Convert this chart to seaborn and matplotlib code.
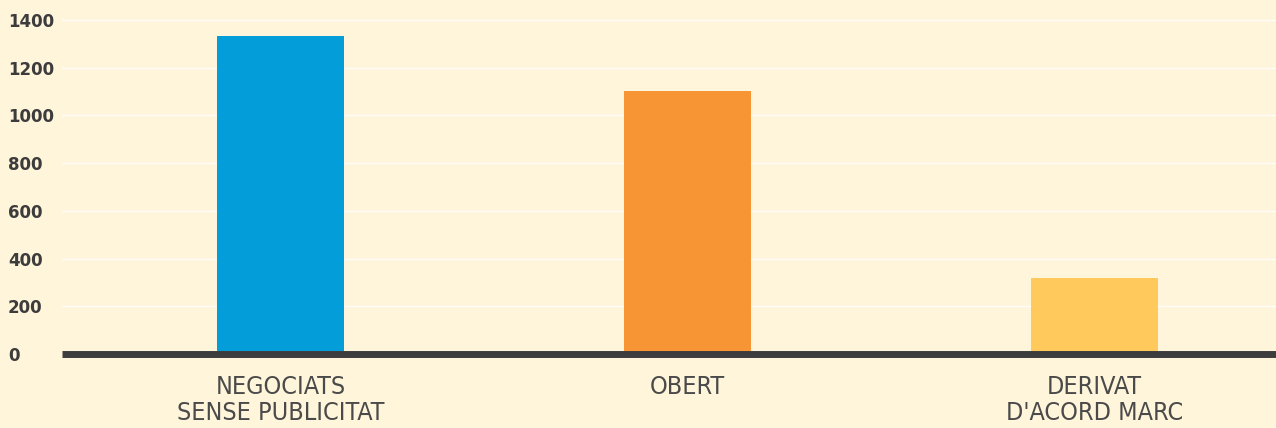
import pandas as pd
import matplotlib.pyplot as plt
import seaborn as sns

# dades
categories = ['NEGOCIATS\nSENSE PUBLICITAT', 'OBERT', "DERIVAT\nD'ACORD MARC"]
values = [1333, 1102, 318]
colors = ['#039ED9', '#F79433', '#FFC95C']
yticks = [0, 200, 400, 600, 800, 1000, 1200, 1400]

df = pd.DataFrame({'Tipus': categories, 'Valor': values})

bg = '#FEF5DA'
sns.set_theme(style='white')
plt.rcParams['font.family'] = ['DejaVu Sans']

fig = plt.figure(figsize=(12.76, 4.28), dpi=100, facecolor=bg)
ax = fig.add_axes([62 / 1276, 1 - 354 / 428, 1 - 62 / 1276, 354 / 428])
ax.set_facecolor(bg)

sns.barplot(data=df, x='Tipus', y='Valor', hue='Tipus', palette=colors,
            width=0.312, legend=False, ax=ax, zorder=2, saturation=1,
            linewidth=0)

ax.set_xlim(-0.537, 2.446)
ax.set_ylim(0, 1483)
ax.set_yticks(yticks)
# línies de graella blanques i base gruixuda
for y in yticks[1:]:
    ax.axhline(y, color='white', lw=0.9, alpha=0.9, zorder=1)
ax.axhline(0, color='#3d3d3d', lw=5, zorder=3, solid_capstyle='butt',
           clip_on=False)

for s in ax.spines.values():
    s.set_visible(False)
ax.set_xlabel('')
ax.set_ylabel('')
ax.tick_params(axis='both', length=0)
ax.tick_params(axis='y', pad=39)
for t in ax.get_yticklabels():
    t.set_horizontalalignment('left')
    t.set_fontweight('bold')
    t.set_fontsize(12)
    t.set_color('#3c3c3c')

ax.tick_params(axis='x', pad=15)
for t in ax.get_xticklabels():
    t.set_fontstretch('condensed')
    t.set_fontsize(18)
    t.set_color('#4a4a4a')
    t.set_linespacing(1.1)

fig.savefig('out.png', dpi=100, facecolor=bg)
